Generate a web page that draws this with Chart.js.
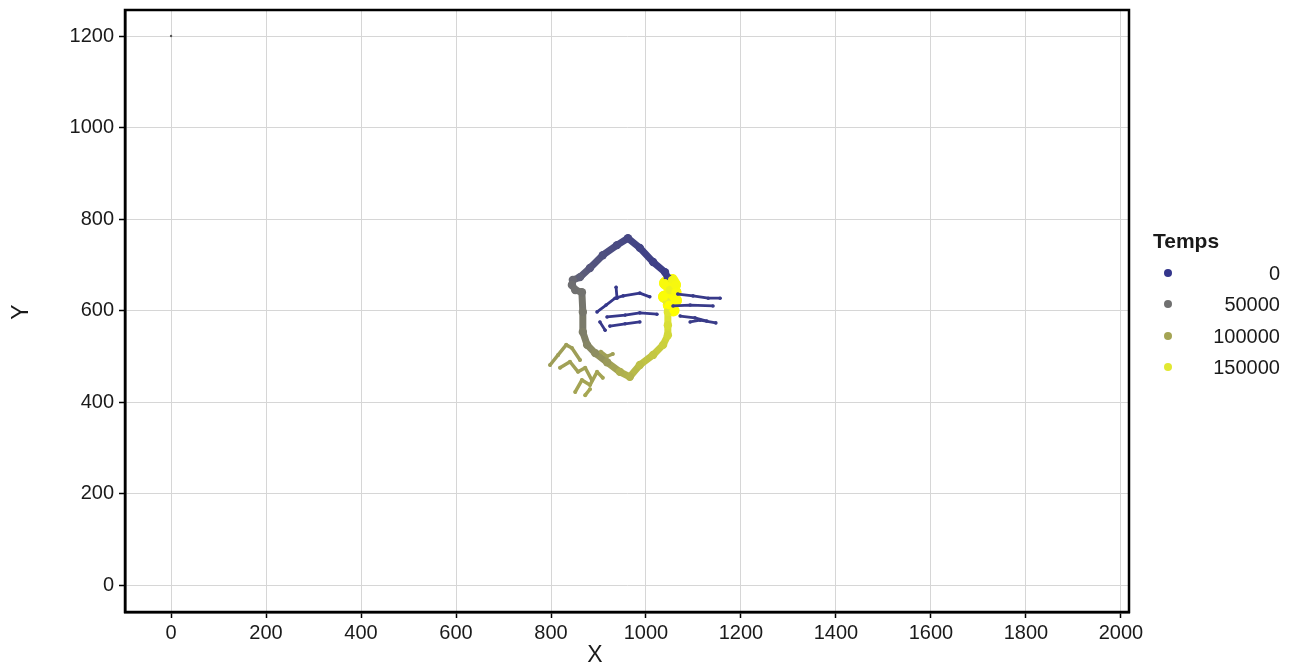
<!DOCTYPE html>
<html>
<head>
<meta charset="utf-8">
<script src="https://cdn.jsdelivr.net/npm/chart.js@4.4.1/dist/chart.umd.min.js"></script>
<style>
  body { margin: 0; background: #fff; }
  #wrap { position: relative; width: 1297px; height: 670px; }
  #legend { position: absolute; left: 0; top: 0; font-family: "Liberation Sans", Arial, sans-serif; color: #1a1a1a; }
  #legend .title { position: absolute; left: 1153px; top: 229px; font-size: 21px; font-weight: bold; }
  #legend .row { position: absolute; left: 1158px; width: 122px; height: 24px; font-size: 20px; line-height: 24px; text-align: right; }
  #legend .dot { position: absolute; left: 6px; top: 8px; width: 8px; height: 8px; border-radius: 50%; }
</style>
</head>
<body>
<div id="wrap">
  <canvas id="chart" width="1297" height="670"></canvas>
  <div id="legend"></div>
</div>
<script>
// main trajectory (ordered in time)
const trackX = [1046, 1040, 1015, 987, 962, 939, 909, 882, 861, 846, 844, 851, 865, 867, 867, 876, 893, 918,
                945, 966, 987, 1015, 1036, 1046, 1046, 1046, 1044, 1050, 1055, 1061, 1040, 1062, 1038, 1063, 1048, 1058];
const trackY = [671, 684, 706, 737, 758, 743, 721, 693, 673, 667, 656, 645, 640, 597, 553, 525, 507, 487,
                466, 455, 481, 503, 525, 546, 568, 597, 619, 645, 667, 656, 660, 640, 630, 622, 612, 600];
const trackT = [5000, 7000, 9000, 12000, 15000, 18000, 22000, 28000, 36000, 44000, 48000, 50000, 52000, 57000, 63000, 70000, 78000, 90000,
                108000, 112000, 120000, 126000, 132000, 138000, 143000, 148000, 153000, 158000, 162000, 164000, 165000, 166000, 167000, 168000, 169000, 170000];

// olive scribbles lower left
const scribbleX = [[798, 815, 832, 844, 861], [819, 840, 857, 872, 886], [851, 865, 882, 897, 909], [872, 882], [905, 918, 930]];
const scribbleY = [[481, 503, 525, 518, 492], [475, 488, 466, 475, 448], [422, 448, 437, 466, 453], [415, 428], [510, 500, 505]];
const scribbleT = [94000, 97000, 100000, 102000, 96000];

// early blue streaks in the middle
const streakX = [[897, 916, 935, 952, 987, 1008], [937, 939], [918, 956, 987, 1023], [924, 956, 987], [903, 914],
                 [1067, 1099, 1131, 1156], [1057, 1093, 1141], [1072, 1103, 1128], [1093, 1114, 1147]];
const streakY = [[597, 612, 627, 632, 638, 630], [651, 627], [586, 590, 595, 592], [566, 571, 575], [575, 557],
                 [636, 632, 627, 627], [610, 612, 610], [588, 584, 577], [575, 579, 573]];
const streakT = [1000, 1500, 2000, 2500, 3000, 3500, 4000, 4500, 5000];

// stray point at the top left
const strayX = [0];
const strayY = [1200];

const xTicks = [0, 200, 400, 600, 800, 1000, 1200, 1400, 1600, 1800, 2000];
const yTicks = [0, 200, 400, 600, 800, 1000, 1200];
const legendValues = [0, 50000, 100000, 150000];

const colorStops = [[0, [52, 54, 140]], [50000, [112, 112, 112]], [100000, [164, 164, 84]], [150000, [225, 232, 50]], [170000, [255, 255, 0]]];
function colorAt(t) {
    for (let i = 1; i < colorStops.length; i++) {
        if (t <= colorStops[i][0]) {
            const [t0, c0] = colorStops[i - 1];
            const [t1, c1] = colorStops[i];
            const f = (t - t0) / (t1 - t0);
            const c = c0.map((v, k) => Math.round(v + (c1[k] - v) * f));
            return 'rgb(' + c.join(',') + ')';
        }
    }
    return 'rgb(255,255,0)';
}

function pathDataset(xs, ys, ts, width, dot) {
    return {
        data: xs.map((x, i) => ({ x, y: ys[i] })),
        showLine: true,
        borderWidth: width,
        borderColor: colorAt(ts[0]),
        borderCapStyle: 'round',
        borderJoinStyle: 'round',
        segment: {
            borderColor: (c) => colorAt((ts[c.p0DataIndex] + ts[c.p1DataIndex]) / 2),
            borderWidth: (c) => (ts[c.p0DataIndex] > 160000 ? width + 5 : width),
        },
        pointRadius: dot,
        pointBorderWidth: 0,
        pointBackgroundColor: ts.map(colorAt),
    };
}

const datasets = [];
streakX.forEach((xs, i) => datasets.push(pathDataset(xs, streakY[i], xs.map(() => streakT[i]), 2.8, 1.8)));
scribbleX.forEach((xs, i) => datasets.push(pathDataset(xs, scribbleY[i], xs.map(() => scribbleT[i]), 3.5, 2)));
datasets.push(pathDataset(trackX, trackY, trackT, 7, 4.2));
datasets.push({
    data: strayX.map((x, i) => ({ x, y: strayY[i] })),
    pointRadius: 1.2, pointBorderWidth: 0, pointBackgroundColor: '#555',
});

const font = { family: '"Liberation Sans", Arial, sans-serif', size: 20 };

const frame = {
    id: 'frame',
    afterDraw(chart) {
        const { ctx, chartArea: a } = chart;
        ctx.save();
        ctx.strokeStyle = '#000';
        ctx.lineWidth = 2.5;
        ctx.strokeRect(a.left, a.top, a.right - a.left, a.bottom - a.top);
        ctx.fillStyle = '#1a1a1a';
        ctx.font = '23px "Liberation Sans", Arial, sans-serif';
        ctx.textAlign = 'center';
        ctx.textBaseline = 'middle';
        ctx.fillText('X', 595, 656);
        ctx.translate(22, 312);
        ctx.rotate(-Math.PI / 2);
        ctx.fillText('Y', 0, 0);
        ctx.restore();
    },
};

new Chart(document.getElementById('chart'), {
    type: 'scatter',
    data: { datasets },
    options: {
        responsive: false,
        animation: false,
        events: [],
        layout: { padding: { top: 10, right: 168, left: 0, bottom: 0 } },
        plugins: { legend: { display: false }, tooltip: { enabled: false } },
        scales: {
            x: {
                min: -97, max: 2017,
                afterBuildTicks: (s) => { s.ticks = xTicks.map((v) => ({ value: v })); },
                afterFit: (s) => { s.height = 58; s.paddingLeft = 0; s.paddingRight = 0; },
                grid: { color: '#d6d6d6', lineWidth: 1, tickColor: '#000', tickLength: 6, tickWidth: 1.5 },
                border: { color: '#000', width: 2.5 },
                ticks: { font, color: '#1a1a1a', padding: 3, maxRotation: 0, callback: (v) => String(v) },
            },
            y: {
                min: -59, max: 1257,
                afterBuildTicks: (s) => { s.ticks = yTicks.map((v) => ({ value: v })); },
                afterFit: (s) => { s.width = 125; s.paddingTop = 0; s.paddingBottom = 0; },
                grid: { color: '#d6d6d6', lineWidth: 1, tickColor: '#000', tickLength: 6, tickWidth: 1.5 },
                border: { color: '#000', width: 2.5 },
                ticks: { font, color: '#1a1a1a', padding: 5, callback: (v) => String(v) },
            },
        },
    },
    plugins: [frame],
});

// legend
const legend = document.getElementById('legend');
legend.innerHTML = '<div class="title">Temps</div>';
const rowTops = [261, 292, 324, 355];
legendValues.forEach((v, i) => {
    const row = document.createElement('div');
    row.className = 'row';
    row.style.top = rowTops[i] + 'px';
    row.innerHTML = '<span class="dot" style="background:' + colorAt(v) + '"></span>' + v;
    legend.appendChild(row);
});
</script>
</body>
</html>
